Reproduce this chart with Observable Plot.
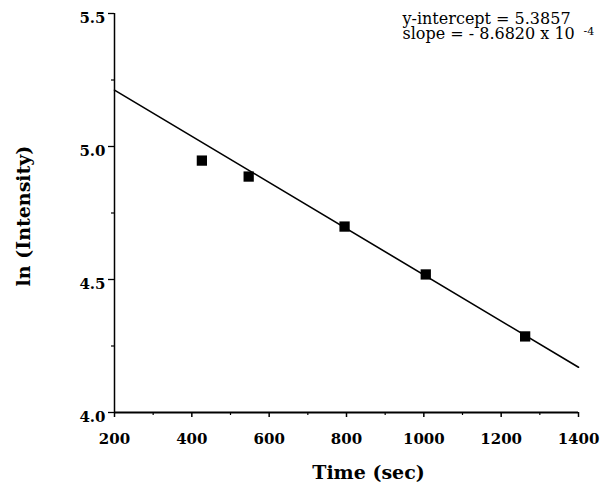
<!DOCTYPE html>
<html><head><meta charset="utf-8">
<script src="https://cdn.jsdelivr.net/npm/d3@7"></script>
<script src="https://cdn.jsdelivr.net/npm/@observablehq/plot@0.6"></script>
<style>body{margin:0;background:#fff}</style>
</head><body><div id="chart"></div>
<script>
// Measured data points (time in seconds, ln of intensity)
const times = [426, 547, 795, 1005, 1262];
const lnIntensity = [4.947, 4.887, 4.699, 4.519, 4.286];
// Fitted line coefficients, as printed on the chart
const fitIntercept = 5.3857;
const fitSlope = -8.6820e-4;
const fitRange = [200, 1400];
// Axis ticks
const xTicks = [200, 400, 600, 800, 1000, 1200, 1400];
const xMinorTicks = [300, 500, 700, 900, 1100, 1300];
const yTicks = [4.0, 4.5, 5.0, 5.5];
const yMinorTicks = [4.25, 4.75, 5.25];
// Texts
const annotationLines = ["y-intercept = 5.3857", "slope = - 8.6820 x 10"];
const exponentLabel = "-4";
const xTitle = "Time (sec)";
const yTitle = "ln (Intensity)";

const points = times.map((t, i) => ({t, v: lnIntensity[i]}));
const fitLine = fitRange.map(t => ({t, v: fitIntercept + fitSlope * t}));
const serif = "DejaVu Serif";
const blank = () => "";

const chart = Plot.plot({
  width: 603, height: 488,
  marginLeft: 114, marginRight: 25, marginTop: 13, marginBottom: 76,
  x: {domain: [200, 1400]},
  y: {domain: [4.0, 5.5]},
  style: {fontFamily: serif, background: "#fff", color: "#000"},
  marks: [
    // axis lines
    Plot.ruleY([4.0], {stroke: "#000", strokeWidth: 2}),
    Plot.ruleX([200], {y1: 4.0, y2: 5.5, stroke: "#000", strokeWidth: 1.5}),
    // x ticks
    Plot.axisX(xTicks, {tickSize: 5, tickFormat: blank, label: null, strokeWidth: 1.5}),
    Plot.axisX(xMinorTicks, {tickSize: 3, tickFormat: blank, label: null, strokeWidth: 1.2}),
    Plot.axisX(xTicks, {tickSize: 0, tickPadding: 21, tickFormat: d => String(d), label: null,
      fontSize: 15, fontWeight: "bold"}),
    // y ticks
    Plot.axisY(yTicks, {tickSize: 6, tickFormat: blank, label: null, strokeWidth: 1.3}),
    Plot.axisY(yMinorTicks, {tickSize: 3, tickFormat: blank, label: null, strokeWidth: 1.2}),
    Plot.axisY(yTicks, {tickSize: 0, tickPadding: 9, dy: 5, tickFormat: d => d.toFixed(1), label: null,
      fontSize: 15, fontWeight: "bold"}),
    // fitted line and data
    Plot.line(fitLine, {x: "t", y: "v", stroke: "#000", strokeWidth: 1.6}),
    Plot.dot(points, {x: "t", y: "v", symbol: "square", fill: "#000", stroke: "none", r: 5.8}),
    // annotation
    Plot.text([annotationLines[0]], {frameAnchor: "top-left", textAnchor: "start", lineAnchor: "middle",
      dx: 288, dy: 5, fontSize: 16, fill: "#000"}),
    Plot.text([annotationLines[1]], {frameAnchor: "top-left", textAnchor: "start", lineAnchor: "middle",
      dx: 288, dy: 20, fontSize: 16, fill: "#000"}),
    Plot.text([exponentLabel], {frameAnchor: "top-left", textAnchor: "start", lineAnchor: "middle",
      dx: 469, dy: 18, fontSize: 11, fill: "#000"}),
    // titles
    Plot.text([xTitle], {frameAnchor: "bottom", dx: 22, dy: 66, fontSize: 19, fontWeight: "bold", fill: "#000"}),
    Plot.text([yTitle], {frameAnchor: "left", textAnchor: "middle", rotate: -90, dx: -91, dy: 3, fontSize: 19, fontWeight: "bold", fill: "#000"})
  ]
});
document.getElementById("chart").appendChild(chart);
</script>
</body></html>
